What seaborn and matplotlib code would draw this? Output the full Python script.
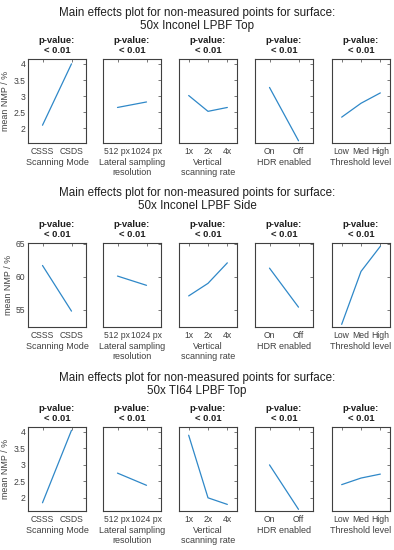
import numpy as np
import pandas as pd
import seaborn as sns
from matplotlib import pyplot as plt

# factor names / levels
factors = ['Scanning Mode', 'Lateral sampling\nresolution', 'Vertical\nscanning rate',
           'HDR enabled', 'Threshold level']
levels = [['CSSS', 'CSDS'], ['512 px', '1024 px'], ['1x', '2x', '4x'],
          ['On', 'Off'], ['Low', 'Med', 'High']]

# mean NMP values
inconel_top = [[2.1, 4.0], [2.65, 2.82], [3.02, 2.53, 2.65], [3.27, 1.62], [2.35, 2.78, 3.1]]
inconel_side = [[61.7, 54.8], [60.1, 58.7], [57.1, 59.0, 62.1], [61.3, 55.4], [52.8, 60.8, 64.6]]
ti64_top = [[1.85, 4.05], [2.75, 2.38], [3.9, 2.0, 1.8], [3.0, 1.65], [2.4, 2.6, 2.72]]

surfaces = ['50x Inconel LPBF Top', '50x Inconel LPBF Side', '50x TI64 LPBF Top']
all_means = [inconel_top, inconel_side, ti64_top]
pvals = ['< 0.01'] * 5

ylims = [(1.55, 4.15), (52.4, 65.1), (1.6, 4.15)]
yticks = [[2, 2.5, 3, 3.5, 4], [55, 60, 65], [2, 2.5, 3, 3.5, 4]]

sns.set_style('white')
plt.rcParams['font.family'] = ['Liberation Sans', 'DejaVu Sans']
gray = '#404040'
line_col = '#2F88C8'

W, H = 394, 550
fig = plt.figure(figsize=(W / 100, H / 100), dpi=100)

lefts = [28, 103, 179, 255, 332]
pw = 58
tops = [59, 243, 427]
title_centres = [19.5, 199.5, 384.5]
ph = 84

for b in range(3):
    fig.text(0.5, 1 - title_centres[b] / H,
             'Main effects plot for non-measured points for surface:\n' + surfaces[b],
             ha='center', va='center', fontsize=8.4, color='#202020', linespacing=1.15)
    for i in range(5):
        ax = fig.add_axes([lefts[i] / W, 1 - (tops[b] + ph) / H, pw / W, ph / H])
        vals = all_means[b][i]
        df = pd.DataFrame({'level': np.arange(1, len(vals) + 1), 'mean': vals})
        sns.lineplot(data=df, x='level', y='mean', ax=ax, color=line_col, linewidth=0.9)
        ax.set_xlim(0.5, len(vals) + 0.5)
        ax.set_ylim(*ylims[b])
        ax.set_xticks(df['level'])
        ax.set_xticklabels(levels[i])
        ax.set_yticks(yticks[b])
        ax.set_yticklabels([f'{t:g}' for t in yticks[b]])
        ax.tick_params(direction='in', length=2, width=0.5, colors=gray, labelsize=6.2,
                       top=True, right=True, pad=2)
        ax.tick_params(axis='x', pad=3)
        if i > 0:
            ax.tick_params(labelleft=False)
            ax.set_ylabel('')
        else:
            ax.set_ylabel('mean NMP / %', fontsize=6.4, color=gray, labelpad=2)
        ax.set_xlabel(factors[i], fontsize=6.5, color=gray, labelpad=1, linespacing=1.15)
        ax.set_title('p-value:\n' + pvals[i], fontsize=6.8, fontweight='bold',
                     color='#202020', pad=4, linespacing=1.15)
        for s in ax.spines.values():
            s.set_visible(True)
            s.set_color(gray)
            s.set_linewidth(0.8)

fig.savefig('out.png', dpi=100, facecolor='white')
